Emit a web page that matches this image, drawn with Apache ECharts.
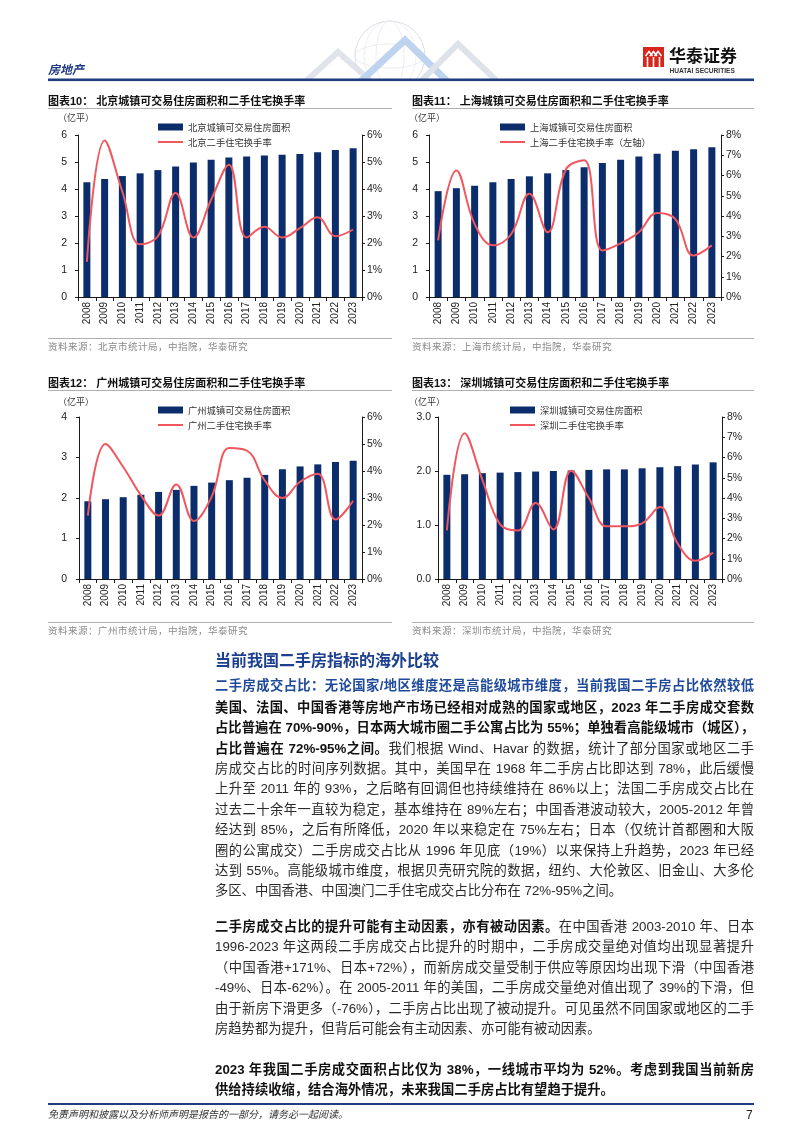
<!DOCTYPE html>
<html><head><meta charset="utf-8">
<script src="https://cdn.jsdelivr.net/npm/echarts@6/dist/echarts.min.js"></script>
<style>
body{margin:0;background:#fff;}
#page{position:relative;width:802px;height:1133px;overflow:hidden;background:#fff;font-family:"Liberation Sans","Noto Sans CJK SC",sans-serif;color:#222;}
#chart{position:absolute;left:0;top:0;width:802px;height:1133px;}
.t{position:absolute;white-space:nowrap;}
.ctitle{font-weight:bold;font-size:11px;line-height:13px;color:#111;}
.hr{position:absolute;height:1px;background:#b0b0b0;}
.src{font-size:9.5px;line-height:11px;color:#8a8a8a;letter-spacing:0.5px;}
.unit{font-size:9px;line-height:11px;color:#333;}
#txt{position:absolute;left:215px;width:539px;}
.ln{height:20.4px;line-height:20.4px;font-size:13.3px;text-align:justify;text-align-last:justify;color:#2a2a2a;}
.ln.l{text-align-last:left;}
.ln b{color:#111;}
.h1{position:absolute;left:215px;font-size:16px;line-height:20px;font-weight:bold;color:#1d3f8f;}
.h2{position:absolute;left:215px;width:539px;font-size:13.3px;line-height:18px;font-weight:bold;color:#1f4a99;text-align:justify;text-align-last:justify;}
</style></head>
<body><div id="page">
<div id="chart"></div>

<!-- header -->
<svg class="t" style="left:0;top:0" width="802" height="90">
  <defs><clipPath id="cp"><rect x="0" y="0" width="802" height="79"/></clipPath></defs>
  <g clip-path="url(#cp)" opacity="0.75">
    <circle cx="390" cy="56" r="35" fill="none" stroke="#cfd3da" stroke-width="1"/>
    <ellipse cx="390" cy="56" rx="35" ry="12" fill="none" stroke="#dde0e6" stroke-width="0.8"/>
    <ellipse cx="390" cy="56" rx="14" ry="35" fill="none" stroke="#dde0e6" stroke-width="0.8"/>
    <ellipse cx="390" cy="56" rx="26" ry="35" fill="none" stroke="#e2e5ea" stroke-width="0.8"/>
    <polyline points="305,82 338,52 372,82" fill="none" stroke="#d6dbe3" stroke-width="6"/>
    <polyline points="360,82 405,40 448,82" fill="none" stroke="#a9c6e8" stroke-width="7"/>
    <polyline points="420,82 458,44 498,82" fill="none" stroke="#d3d9e2" stroke-width="6"/>
  </g>
  <rect x="48" y="78.5" width="706" height="2.6" fill="#1f3d7e"/>
  <rect x="643" y="47" width="21" height="20" fill="#d8261e"/>
  <g stroke="#fff" stroke-width="1.6" fill="none">
    <polyline points="645.5,56 649,51.5 652.5,56"/>
    <polyline points="650,56 653.5,51.5 657,56"/>
    <polyline points="654.5,56 658,51.5 661.5,56"/>
    <line x1="647.5" y1="57" x2="647.5" y2="67"/>
    <line x1="653.5" y1="57" x2="653.5" y2="67"/>
    <line x1="659.5" y1="57" x2="659.5" y2="67"/>
  </g>
  <text x="669" y="62" font-family="Noto Sans CJK SC" font-weight="bold" font-size="17" fill="#111">华泰证券</text>
  <text x="669.5" y="73" font-family="Liberation Sans" font-weight="bold" font-size="6.6" fill="#333">HUATAI SECURITIES</text>
</svg>
<div class="t" style="left:48px;top:62px;font-size:12px;line-height:16px;font-weight:bold;font-style:italic;color:#1f3a80;">房地产</div>

<!-- chart titles -->
<div class="t ctitle" style="left:48px;top:95px">图表10：&nbsp;北京城镇可交易住房面积和二手住宅换手率</div>
<div class="hr" style="left:48px;top:108px;width:344px"></div>
<div class="t unit" style="left:58px;top:112.5px">（亿平）</div>
<div class="hr" style="left:48px;top:338px;width:344px"></div>
<div class="t src" style="left:48px;top:341px">资料来源：北京市统计局，中指院，华泰研究</div>

<div class="t ctitle" style="left:412px;top:95px">图表11：&nbsp;上海城镇可交易住房面积和二手住宅换手率</div>
<div class="hr" style="left:412px;top:108px;width:342px"></div>
<div class="t unit" style="left:409px;top:112.5px">（亿平）</div>
<div class="hr" style="left:412px;top:338px;width:342px"></div>
<div class="t src" style="left:412px;top:341px">资料来源：上海市统计局，中指院，华泰研究</div>

<div class="t ctitle" style="left:48px;top:376.5px">图表12：&nbsp;广州城镇可交易住房面积和二手住宅换手率</div>
<div class="hr" style="left:48px;top:390px;width:344px"></div>
<div class="t unit" style="left:58px;top:396.5px">（亿平）</div>
<div class="hr" style="left:48px;top:622px;width:344px"></div>
<div class="t src" style="left:48px;top:625px">资料来源：广州市统计局，中指院，华泰研究</div>

<div class="t ctitle" style="left:412px;top:376.5px">图表13：&nbsp;深圳城镇可交易住房面积和二手住宅换手率</div>
<div class="hr" style="left:412px;top:390px;width:342px"></div>
<div class="t unit" style="left:409px;top:396.5px">（亿平）</div>
<div class="hr" style="left:412px;top:622px;width:342px"></div>
<div class="t src" style="left:412px;top:625px">资料来源：深圳市统计局，中指院，华泰研究</div>

<!-- text -->
<div class="h1" style="top:651px">当前我国二手房指标的海外比较</div>
<div class="h2" style="top:677px">二手房成交占比：无论国家/地区维度还是高能级城市维度，当前我国二手房占比依然较低</div>
<div id="txt" style="top:697.8px">
<div class="ln"><b>美国、法国、中国香港等房地产市场已经相对成熟的国家或地区，2023 年二手房成交套数</b></div>
<div class="ln"><b>占比普遍在 70%-90%，日本两大城市圈二手公寓占比为 55%；单独看高能级城市（城区），</b></div>
<div class="ln"><b>占比普遍在 72%-95%之间。</b>我们根据 Wind、Havar 的数据，统计了部分国家或地区二手</div>
<div class="ln">房成交占比的时间序列数据。其中，美国早在 1968 年二手房占比即达到 78%，此后缓慢</div>
<div class="ln">上升至 2011 年的 93%，之后略有回调但也持续维持在 86%以上；法国二手房成交占比在</div>
<div class="ln">过去二十余年一直较为稳定，基本维持在 89%左右；中国香港波动较大，2005-2012 年曾</div>
<div class="ln">经达到 85%，之后有所降低，2020 年以来稳定在 75%左右；日本（仅统计首都圈和大阪</div>
<div class="ln">圈的公寓成交）二手房成交占比从 1996 年见底（19%）以来保持上升趋势，2023 年已经</div>
<div class="ln">达到 55%。高能级城市维度，根据贝壳研究院的数据，纽约、大伦敦区、旧金山、大多伦</div>
<div class="ln l">多区、中国香港、中国澳门二手住宅成交占比分布在 72%-95%之间。</div>
<div style="height:15.3px"></div>
<div class="ln"><b>二手房成交占比的提升可能有主动因素，亦有被动因素。</b>在中国香港 2003-2010 年、日本</div>
<div class="ln">1996-2023 年这两段二手房成交占比提升的时期中，二手房成交量绝对值均出现显著提升</div>
<div class="ln">（中国香港+171%、日本+72%），而新房成交量受制于供应等原因均出现下滑（中国香港</div>
<div class="ln">-49%、日本-62%）。在 2005-2011 年的美国，二手房成交量绝对值出现了 39%的下滑，但</div>
<div class="ln">由于新房下滑更多（-76%），二手房占比出现了被动提升。可见虽然不同国家或地区的二手</div>
<div class="ln l">房趋势都为提升，但背后可能会有主动因素、亦可能有被动因素。</div>
<div style="height:20.4px"></div>
<div class="ln"><b>2023 年我国二手房成交面积占比仅为 38%，一线城市平均为 52%。考虑到我国当前新房</b></div>
<div class="ln l"><b>供给持续收缩，结合海外情况，未来我国二手房占比有望趋于提升。</b></div>
</div>

<!-- footer -->
<div class="t" style="left:48px;top:1103px;width:706px;height:1.6px;background:#1f3d7e"></div>
<div class="t" style="left:48px;top:1108px;font-size:10px;line-height:14px;font-style:italic;color:#333;">免责声明和披露以及分析师声明是报告的一部分，请务必一起阅读。</div>
<div class="t" style="left:746px;top:1107px;font-size:12px;line-height:16px;color:#222;">7</div>
</div>

<script>
// ---- data ----
const years = ['2008','2009','2010','2011','2012','2013','2014','2015','2016','2017','2018','2019','2020','2021','2022','2023'];
const bjArea = [4.25,4.37,4.48,4.58,4.70,4.83,4.98,5.08,5.17,5.20,5.24,5.27,5.30,5.36,5.44,5.51];
const bjRate = [1.3,5.8,3.9,1.95,2.25,3.85,2.2,3.6,4.9,2.2,2.6,2.2,2.55,2.95,2.25,2.5];
const shArea = [3.92,4.03,4.12,4.25,4.37,4.47,4.58,4.70,4.81,4.96,5.08,5.20,5.31,5.42,5.47,5.55];
const shRate = [2.8,6.25,3.6,2.55,3.1,5.1,3.2,6.3,6.75,2.3,2.65,3.2,4.15,3.85,2.05,2.55];
const gzArea = [1.92,1.97,2.02,2.08,2.15,2.20,2.30,2.38,2.44,2.50,2.57,2.71,2.78,2.83,2.89,2.92];
const gzRate = [2.35,5.0,4.15,3.1,2.35,3.5,2.15,3.05,4.85,4.75,3.65,3.0,3.6,3.9,2.2,2.9];
const szArea = [1.93,1.94,1.96,1.97,1.98,1.99,2.00,2.01,2.02,2.03,2.03,2.05,2.07,2.09,2.12,2.16];
const szRate = [2.4,7.2,4.9,2.7,2.4,3.75,2.45,5.35,4.0,2.6,2.6,2.75,3.55,1.75,0.9,1.3];
const leftTicks = [{max:6,interval:1,dec:0},{max:6,interval:1,dec:0},{max:4,interval:1,dec:0},{max:3,interval:1,dec:1}];
const rightTicks = [{max:6,interval:1},{max:8,interval:1},{max:6,interval:1},{max:8,interval:1}];
const barNames = ['北京城镇可交易住房面积','上海城镇可交易住房面积','广州城镇可交易住房面积','深圳城镇可交易住房面积'];
const lineNames = ['北京二手住宅换手率','上海二手住宅换手率（左轴）','广州二手住宅换手率','深圳二手住宅换手率'];

const areas = [bjArea, shArea, gzArea, szArea];
const rates = [bjRate, shRate, gzRate, szRate];
const grids = [
  {left:78, top:135, width:284, height:162, legL:158, legT:121, lm:11},
  {left:429, top:135, width:292, height:162, legL:500, legT:121, lm:11},
  {left:79, top:417, width:283, height:162, legL:158, legT:404, lm:12},
  {left:438, top:417, width:284, height:162, legL:510, legT:404, lm:7}
];
const BAR = '#0c2d6b', LINE = '#f0575e', AX = '#1a1a1a';
const FONT = 'Liberation Sans';
const LINE_ICON = 'path://M0,0L100,0L100,8L0,8Z';

const option = {animation:false, grid:[], xAxis:[], yAxis:[], series:[], legend:[]};
grids.forEach((g,i)=>{
  option.grid.push({left:g.left, top:g.top, width:g.width, height:g.height, containLabel:false, outerBoundsMode:'none'});
  option.xAxis.push({type:'category', gridIndex:i, data:years,
    axisLine:{lineStyle:{color:AX,width:1}},
    axisTick:{show:true, interval:0, length:4, lineStyle:{color:AX}},
    axisLabel:{interval:0, rotate:90, margin:5, fontSize:10, color:'#222', fontFamily:FONT},
    splitLine:{show:false}});
  const lt = leftTicks[i];
  option.yAxis.push({type:'value', gridIndex:i, position:'left', min:0, max:lt.max, interval:lt.interval,
    axisLine:{show:true, lineStyle:{color:AX}}, axisTick:{show:true, length:3, lineStyle:{color:AX}},
    splitLine:{show:false},
    axisLabel:{margin:g.lm, fontSize:10.5, color:'#222', fontFamily:FONT, formatter:v=>v.toFixed(lt.dec)}});
  const rt = rightTicks[i];
  option.yAxis.push({type:'value', gridIndex:i, position:'right', min:0, max:rt.max, interval:rt.interval,
    axisLine:{show:true, lineStyle:{color:AX}}, axisTick:{show:true, length:3, lineStyle:{color:AX}},
    splitLine:{show:false},
    axisLabel:{margin:5, fontSize:10.5, color:'#222', fontFamily:FONT, formatter:'{value}%'}});
  option.series.push({name:barNames[i], type:'bar', xAxisIndex:i, yAxisIndex:2*i, data:areas[i], barWidth:7,
    itemStyle:{color:BAR}});
  option.series.push({name:lineNames[i], type:'line', xAxisIndex:i, yAxisIndex:2*i+1, data:rates[i], smooth:0.4,
    symbol:'none', lineStyle:{color:LINE, width:2}, itemStyle:{color:LINE}});
  option.legend.push({orient:'vertical', left:g.legL, top:g.legT, padding:0, itemGap:3, itemWidth:25, itemHeight:7,
    selectedMode:false,
    textStyle:{fontSize:9.3, color:'#333', lineHeight:12, fontFamily:'Noto Sans CJK SC'},
    data:[{name:barNames[i], icon:'rect'}, {name:lineNames[i], icon:LINE_ICON}]});
});
const chart = echarts.init(document.getElementById('chart'), null, {renderer:'canvas'});
chart.setOption(option);
</script>
</body></html>
